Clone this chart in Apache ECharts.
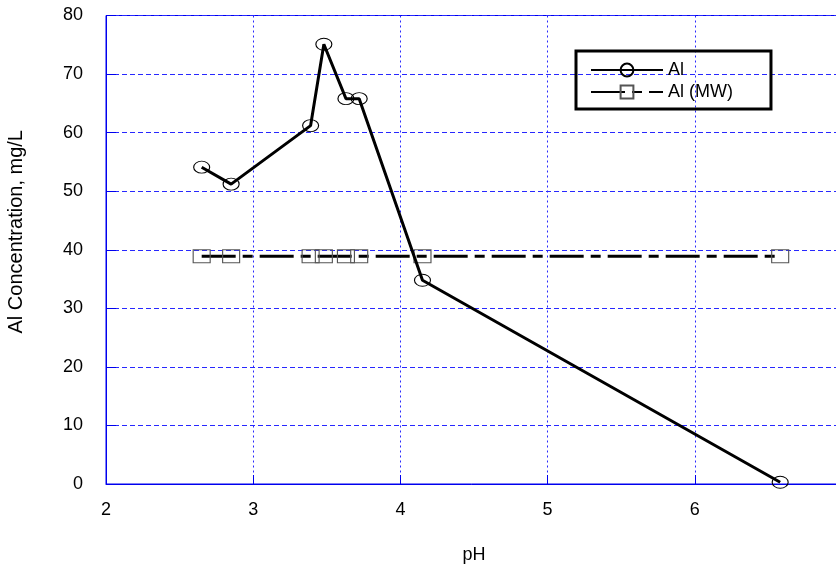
<!DOCTYPE html>
<html>
<head>
<meta charset="utf-8">
<script src="https://cdn.jsdelivr.net/npm/echarts@6/dist/echarts.min.js"></script>
<style>
html,body{margin:0;padding:0;background:#fff;}
#chart{width:836px;height:565px;}
</style>
</head>
<body>
<div id="chart"></div>
<script>
// Data
var pH = [2.65, 2.85, 3.39, 3.48, 3.63, 3.72, 4.15, 6.58];
var alConc = [54.1, 51.2, 61.2, 75.1, 65.8, 65.8, 34.8, 0.3];
var alMW = [38.9, 38.9, 38.9, 38.9, 38.9, 38.9, 38.9, 38.9];
var seriesNames = ['Al', 'Al (MW)'];
var xTicks = {min: 2, max: 7, interval: 1};
var yTicks = {min: 0, max: 80, interval: 10};

function pairs(xs, ys) { return xs.map(function (x, i) { return [x, ys[i]]; }); }

var FONT = 'Liberation Sans, Arial, sans-serif';
var BLUE = '#0000ee';
var GRIDBLUE = '#2828ff';

var chart = echarts.init(document.getElementById('chart'), null, {renderer: 'canvas'});
chart.setOption({
  animation: false,
  backgroundColor: '#ffffff',
  grid: {
    left: 106, right: -6, top: 15.5, bottom: 81,
    containLabel: false, outerBoundsMode: 'none',
    show: true, borderColor: BLUE, borderWidth: 1, backgroundColor: 'transparent'
  },
  legend: {
    orient: 'vertical',
    left: 576, top: 51,
    padding: [10, 38, 8, 14],
    itemWidth: 72, itemHeight: 16, itemGap: 4,
    borderColor: '#000', borderWidth: 3,
    textStyle: {fontFamily: FONT, fontSize: 18, color: '#000'},
    data: seriesNames
  },
  xAxis: {
    type: 'value',
    min: xTicks.min, max: xTicks.max, interval: xTicks.interval,
    name: 'pH', nameLocation: 'middle', nameGap: 62,
    nameTextStyle: {fontFamily: FONT, fontSize: 18, color: '#000'},
    axisLine: {show: true, lineStyle: {color: BLUE, width: 1}},
    axisTick: {show: true, inside: true, length: 9, lineStyle: {color: BLUE}},
    axisLabel: {fontFamily: FONT, fontSize: 18, color: '#000', margin: 17},
    splitLine: {show: true, lineStyle: {color: GRIDBLUE, type: [2, 3], width: 1}}
  },
  yAxis: {
    type: 'value',
    min: yTicks.min, max: yTicks.max, interval: yTicks.interval,
    name: 'Al Concentration, mg/L', nameLocation: 'middle', nameGap: 80,
    nameTextStyle: {fontFamily: FONT, fontSize: 20, color: '#000', padding: [0, 0, 0, 36]},
    axisLine: {show: true, lineStyle: {color: BLUE, width: 1}},
    axisTick: {show: true, inside: true, length: 10, lineStyle: {color: BLUE}},
    axisLabel: {fontFamily: FONT, fontSize: 18, color: '#000', margin: 23},
    splitLine: {show: true, lineStyle: {color: GRIDBLUE, type: [5, 3], width: 1}}
  },
  series: [
    {
      name: seriesNames[0],
      type: 'line',
      data: pairs(pH, alConc),
      color: '#000',
      symbol: 'circle',
      symbolSize: [16, 12],
      showAllSymbol: true,
      lineStyle: {color: '#000', width: 3},
      itemStyle: {color: 'rgba(255,255,255,0)', borderColor: '#000', borderWidth: 1},
      z: 3
    },
    {
      name: seriesNames[1],
      type: 'line',
      data: pairs(pH, alMW),
      color: '#000',
      symbol: 'rect',
      symbolSize: [17, 13],
      showAllSymbol: true,
      lineStyle: {color: '#000', width: 3, type: [34, 7, 10, 7]},
      itemStyle: {color: 'rgba(255,255,255,0)', borderColor: '#555', borderWidth: 1},
      z: 2
    }
  ]
});
</script>
</body>
</html>
